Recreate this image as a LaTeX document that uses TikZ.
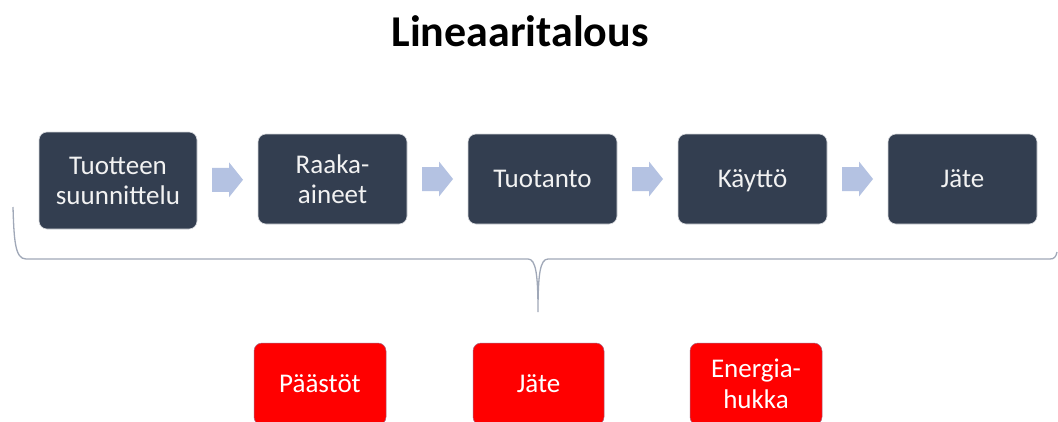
\documentclass[tikz,border=0pt]{standalone}
\usepackage{fontspec}
\setmainfont{Carlito}
\usetikzlibrary{calc}
\definecolor{darkbox}{HTML}{333E50}
\definecolor{arrowc}{HTML}{B4C2E2}
\definecolor{bracec}{HTML}{A0A8B8}
\definecolor{boxtext}{HTML}{F2F2F2}
\definecolor{redc}{HTML}{FF0000}
\newcommand\blockarr[1]{%
  \fill[arrowc] ($(#1)+(-15.5,-12)$) -- ($(#1)+(1.5,-12)$) -- ($(#1)+(1.5,-17.5)$)
   -- ($(#1)+(15.5,0)$) -- ($(#1)+(1.5,17.5)$) -- ($(#1)+(1.5,12)$)
   -- ($(#1)+(-15.5,12)$) -- cycle;}
\begin{document}
\begin{tikzpicture}[x=1pt,y=-1pt,
  stagebox/.style={fill=darkbox, draw=white!80!darkbox, line width=0.6pt, rounded corners=8pt,
    text=boxtext, align=center, inner sep=0pt, minimum height=90pt,
    font=\fontsize{27}{30}\selectfont},
  oneline/.style={text depth=0pt},
  lossbox/.style={fill=redc, draw=red!70!blue!60!black!60, line width=0.5pt, rounded corners=8pt,
    text=white, align=center, inner sep=0pt, minimum height=82pt, minimum width=132pt,
    font=\fontsize{27}{31}\selectfont},
  bracel/.style={draw=bracec, line width=1.3pt}]
\useasboundingbox (0,0) rectangle (1058,421);
\clip (0,0) rectangle (1058,421);
\fill[white] (0,0) rectangle (1058,421);

\node[font=\fontsize{44}{50}\selectfont\bfseries, anchor=base, inner sep=0pt] (title) at (520,46) {Lineaaritalous};

\node[stagebox, minimum width=158pt, minimum height=97pt] (b1) at (118,180.5) {Tuotteen\\suunnittelu};
\node[stagebox, minimum width=149pt] (b2) at (332.5,179) {Raaka-\\aineet};
\node[stagebox, oneline, minimum width=149pt] (b3) at (542.5,179) {Tuotanto};
\node[stagebox, oneline, minimum width=149pt] (b4) at (752.5,179) {Käyttö};
\node[stagebox, oneline, minimum width=149pt] (b5) at (962.5,179) {Jäte};

\coordinate (m1) at ($(b1.east)!0.5!(b2.west)$);
\coordinate (m2) at ($(b2.east)!0.5!(b3.west)$);
\coordinate (m3) at ($(b3.east)!0.5!(b4.west)$);
\coordinate (m4) at ($(b4.east)!0.5!(b5.west)$);
\blockarr{m1}\blockarr{m2}\blockarr{m3}\blockarr{m4}

\coordinate (tip) at (538,312);
\draw[bracel] (13,207) .. controls (14,240) and (15,259) .. (26,259) -- (528,259)
  .. controls (536,259) and (538,275) .. (tip)
  .. controls (538,275) and (540,259) .. (548,259) -- (1050,259)
  .. controls (1054,259) and (1056,257) .. (1057,252);

\node[lossbox, oneline] (r1) at (320,384) {Päästöt};
\node[lossbox, oneline, minimum width=131pt] (r2) at (538.5,384) {Jäte};
\node[lossbox] (r3) at (756,384) {Energia-\\hukka};
\end{tikzpicture}
\end{document}
